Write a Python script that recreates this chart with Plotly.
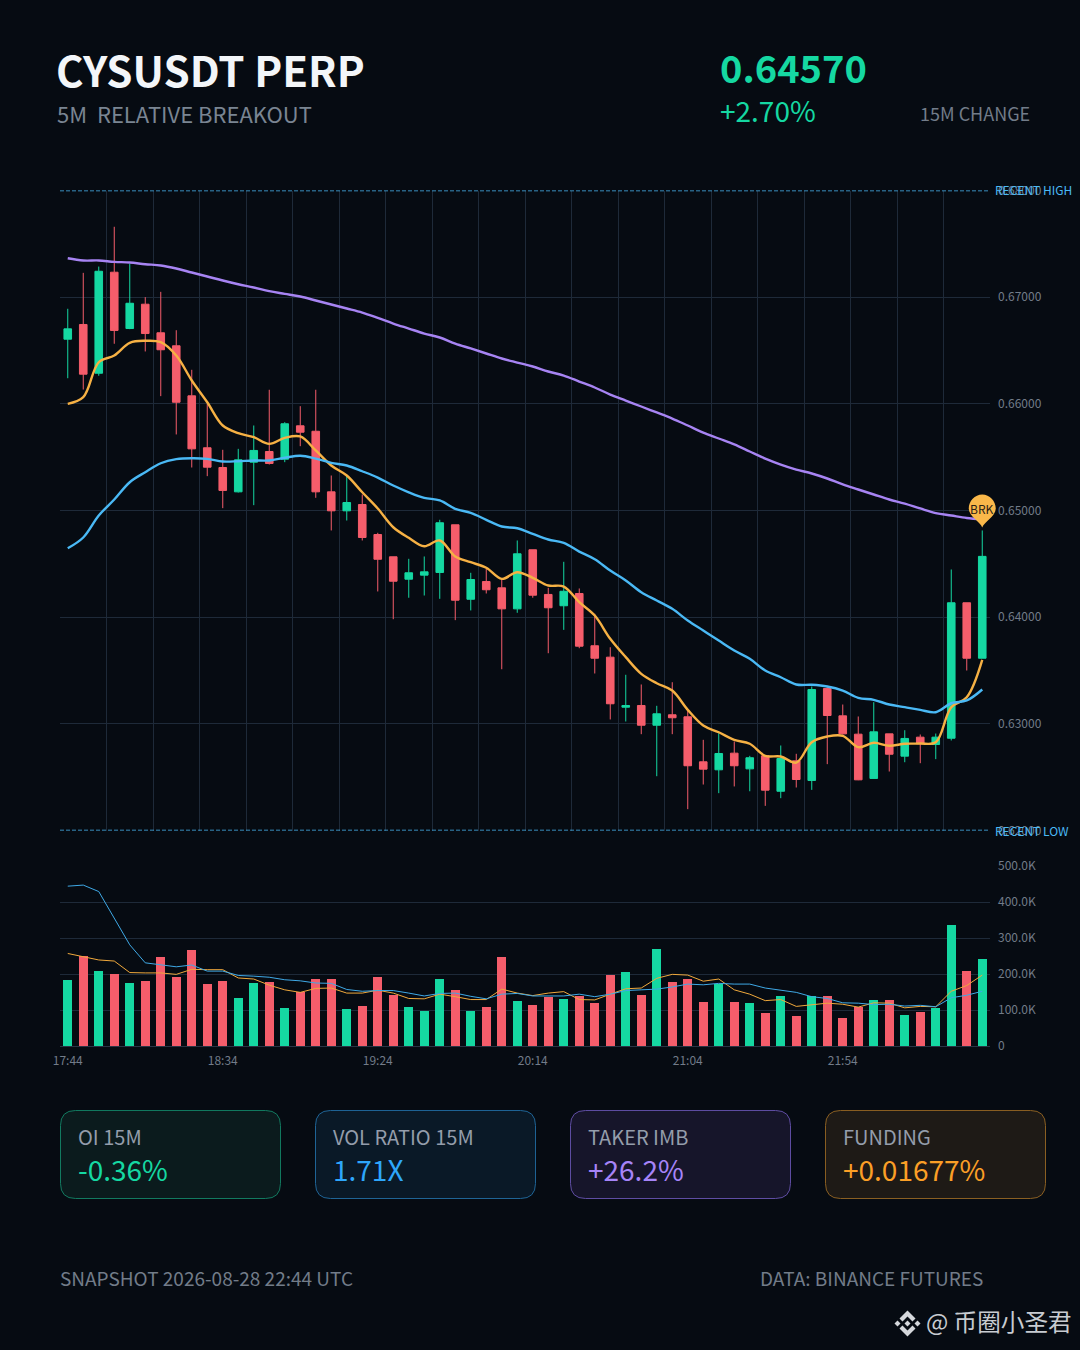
import plotly.graph_objects as go

W, H = 1080, 1350

times = ["17:44","17:49","17:54","17:59","18:04","18:09","18:14","18:19","18:24","18:29",
         "18:34","18:39","18:44","18:49","18:54","18:59","19:04","19:09","19:14","19:19",
         "19:24","19:29","19:34","19:39","19:44","19:49","19:54","19:59","20:04","20:09",
         "20:14","20:19","20:24","20:29","20:34","20:39","20:44","20:49","20:54","20:59",
         "21:04","21:09","21:14","21:19","21:24","21:29","21:34","21:39","21:44","21:49",
         "21:54","21:59","22:04","22:09","22:14","22:19","22:24","22:29","22:34","22:39"]

opens = [.66606,.66744,.66287,.67234,.66706,.66934,.66666,.66544,.66075,.65588,
         .65403,.65175,.65453,.65553,.65481,.65794,.65743,.65175,.64997,.65056,
         .64775,.64566,.64356,.64394,.64419,.64866,.64168,.64334,.64275,.64078,
         .64632,.64213,.64107,.64222,.63732,.63625,.63156,.63172,.62987,.63085,
         .63066,.62644,.62569,.62725,.62578,.62700,.62368,.62653,.62469,.63331,
         .63075,.62903,.62488,.62906,.62697,.62875,.62806,.62865,.64135,.63615]
closes = [.66703,.66278,.67243,.66688,.66943,.66659,.66507,.66015,.65578,.65406,
          .65188,.65475,.65563,.65441,.65813,.65734,.65175,.64997,.65075,.64747,
          .64543,.64337,.64416,.64425,.64885,.64159,.64353,.64257,.64078,.64594,
          .64206,.64088,.64243,.63728,.63615,.63188,.63172,.62987,.63094,.63057,
          .62607,.62575,.62722,.62607,.62682,.62378,.62675,.62478,.63322,.63078,
          .62906,.62475,.62925,.62715,.62863,.62813,.62875,.64135,.63615,.64570]
highs = [.66891,.67228,.67287,.67660,.67313,.67000,.67050,.66690,.66319,.66000,
         .65569,.65578,.65797,.66132,.65828,.65978,.66132,.65328,.65328,.65150,
         .64791,.64566,.64547,.64569,.64913,.64866,.64416,.64453,.64363,.64719,
         .64632,.64275,.64519,.64269,.64032,.63718,.63460,.63369,.63169,.63390,
         .63125,.62850,.62912,.62834,.62700,.62700,.62797,.62719,.63350,.63356,
         .63181,.63069,.63203,.62906,.62940,.62900,.62909,.64447,.64135,.64813]
lows = [.66240,.66134,.66263,.66563,.66700,.66491,.66072,.65713,.65403,.65322,
        .65022,.65169,.65050,.65431,.65453,.65603,.65119,.64813,.64906,.64719,
        .64241,.63981,.64182,.64203,.64172,.63972,.64063,.64222,.63512,.64041,
        .64182,.63662,.63881,.63709,.63472,.63041,.63022,.62903,.62509,.62903,
        .62200,.62431,.62350,.62413,.62368,.62231,.62303,.62403,.62381,.62622,
        .62900,.62472,.62488,.62553,.62640,.62631,.62669,.62844,.63500,.63615]

ema_fast = [.66000,.66062,.66390,.66453,.66572,.66591,.66578,.66453,.66219,.66015,
            .65797,.65725,.65687,.65625,.65681,.65694,.65563,.65422,.65328,.65171,
            .65019,.64843,.64744,.64665,.64719,.64569,.64515,.64463,.64359,.64421,
            .64369,.64297,.64287,.64140,.64015,.63797,.63625,.63469,.63381,.63312,
            .63131,.62984,.62921,.62850,.62813,.62700,.62694,.62637,.62828,.62881,
            .62888,.62781,.62822,.62794,.62813,.62815,.62828,.63156,.63249,.63600]
ema_mid = [.64646,.64747,.64953,.65103,.65265,.65359,.65443,.65481,.65490,.65484,
           .65459,.65462,.65469,.65469,.65494,.65513,.65487,.65447,.65422,.65368,
           .65309,.65234,.65171,.65119,.65094,.65016,.64978,.64913,.64850,.64834,
           .64781,.64728,.64697,.64615,.64543,.64437,.64344,.64234,.64156,.64078,
           .63969,.63875,.63781,.63688,.63610,.63500,.63437,.63369,.63366,.63350,
           .63312,.63244,.63225,.63181,.63156,.63131,.63109,.63193,.63219,.63322]
ema_slow = [.67365,.67344,.67344,.67331,.67325,.67309,.67297,.67269,.67231,.67194,
            .67156,.67121,.67091,.67056,.67031,.67006,.66969,.66931,.66894,.66856,
            .66806,.66753,.66706,.66659,.66622,.66565,.66519,.66472,.66425,.66387,
            .66350,.66303,.66265,.66209,.66153,.66087,.66031,.65975,.65919,.65862,
            .65797,.65731,.65675,.65619,.65553,.65487,.65431,.65384,.65347,.65300,
            .65244,.65197,.65150,.65103,.65065,.65019,.64976,.64953,.64930,.64918]

volumes = [182,249,207,200,176,181,247,193,267,172,
           181,133,176,179,106,151,185,185,103,111,
           191,143,108,98,185,155,97,109,247,125,
           114,136,131,140,119,197,206,142,269,179,
           186,122,173,122,119,93,139,82,139,139,
           77,108,129,129,87,94,106,337,207,242]
vol_fast = [257,249,239,236,204,203,203,199,213,212,
            212,189,186,169,156,149,160,161,147,147,
            155,147,132,131,144,137,129,129,158,147,
            140,147,151,129,128,144,159,161,188,199,
            197,180,186,156,144,126,129,110,114,119,
            116,108,120,119,106,110,109,152,168,197]
vol_slow = [444,447,429,353,281,231,226,220,225,208,
            208,196,194,191,184,181,175,174,157,152,
            154,154,147,139,146,147,138,131,144,146,
            139,138,139,144,137,144,154,156,158,164,
            172,170,174,172,172,161,155,149,137,132,
            120,119,115,116,111,113,109,134,141,152]

price_ticks = [.62,.63,.64,.65,.66,.67,.68]
vol_ticks = [0,100,200,300,400,500]
vol_labels = ["0","100.0K","200.0K","300.0K","400.0K","500.0K"]
recent_high = .68
recent_low = .62
brk_price = .6484

BG = "#060b12"
GRID = "#1e2a39"
GREEN = "#15d8a2"
RED = "#f55d6b"
ORANGE = "#f6b144"
BLUE = "#4ab9f5"
PURPLE = "#a784f3"
MUTED = "#727c89"
FONT = "Noto Sans CJK SC"

idx = list(range(len(times)))
fig = go.Figure()

fig.add_trace(go.Bar(x=idx, y=[v * 1000 for v in volumes], width=0.56,
                     marker=dict(color=[GREEN if c >= o else RED for o, c in zip(opens, closes)], line_width=0),
                     xaxis="x2", yaxis="y2"))
fig.add_trace(go.Scatter(x=idx, y=[v * 1000 for v in vol_fast], mode="lines",
                         line=dict(color="#f0a93c", width=1), xaxis="x2", yaxis="y2"))
fig.add_trace(go.Scatter(x=idx, y=[v * 1000 for v in vol_slow], mode="lines",
                         line=dict(color="#3fa9e6", width=1), xaxis="x2", yaxis="y2"))

fig.add_trace(go.Candlestick(x=idx, open=opens, high=highs, low=lows, close=closes,
                             increasing=dict(line=dict(color=GREEN, width=1), fillcolor=GREEN),
                             decreasing=dict(line=dict(color=RED, width=1), fillcolor=RED),
                             whiskerwidth=0, xaxis="x", yaxis="y"))
for vals, col in [(ema_fast, ORANGE), (ema_mid, BLUE), (ema_slow, PURPLE)]:
    fig.add_trace(go.Scatter(x=idx, y=vals, mode="lines",
                             line=dict(color=col, width=2.4, shape="spline", smoothing=1.0),
                             xaxis="x", yaxis="y"))
for level in [recent_high, recent_low]:
    fig.add_trace(go.Scatter(x=[-0.5, 59.5], y=[level, level], mode="lines", cliponaxis=False,
                             line=dict(color=BLUE, width=1.3, dash="4px,2px"), xaxis="x", yaxis="y"))

fig.update_layout(
    width=W, height=H, autosize=False, margin=dict(l=0, r=0, t=0, b=0, autoexpand=False),
    paper_bgcolor=BG, plot_bgcolor=BG, showlegend=False, hovermode=False,
    font=dict(family=FONT, color=MUTED),
    bargap=0,
    xaxis=dict(domain=[60 / W, 990 / W], range=[-0.5, 59.5], anchor="y",
               tickmode="array", tickvals=[-0.5 + 3 * k for k in range(21)],
               showticklabels=False, showgrid=True, gridcolor=GRID, gridwidth=1,
               zeroline=False, rangeslider=dict(visible=False)),
    yaxis=dict(domain=[1 - 830.5 / H, 1 - 190.5 / H], range=[.62, .68], anchor="x", side="right",
               tickmode="array", tickvals=price_ticks, tickformat=".5f",
               tickfont=dict(size=12, color=MUTED), ticklabelstandoff=7,
               showgrid=True, gridcolor=GRID, zeroline=False),
    xaxis2=dict(domain=[60 / W, 990 / W], range=[-0.5, 59.5], anchor="y2",
                tickmode="array", tickvals=idx[::10], ticktext=times[::10],
                tickfont=dict(size=12, color=MUTED), showgrid=False, zeroline=False,
                ticklabelstandoff=4, showline=True, linecolor="#2a3545", linewidth=1),
    yaxis2=dict(domain=[1 - 1046 / H, 1 - 866 / H], range=[0, 500000], anchor="x2", side="right",
                tickmode="array", tickvals=[v * 1000 for v in vol_ticks], ticktext=vol_labels,
                tickfont=dict(size=12, color=MUTED), ticklabelstandoff=7,
                showgrid=True, gridcolor=GRID, zeroline=False),
)


def text(x, y, s, size, color, anchor="left", bold=False):
    fig.add_annotation(xref="paper", yref="paper", x=x / W, y=1 - y / H, text=f"<b>{s}</b>" if bold else s,
                       showarrow=False, xanchor=anchor, yanchor="middle", borderpad=0,
                       font=dict(size=size, color=color, family=FONT))


def rounded(x0, y0, x1, y1, r):
    return ("M %.5f %.5f L %.5f %.5f Q %.5f %.5f %.5f %.5f L %.5f %.5f Q %.5f %.5f %.5f %.5f "
            "L %.5f %.5f Q %.5f %.5f %.5f %.5f L %.5f %.5f Q %.5f %.5f %.5f %.5f Z" % tuple(
                v for p in [(x0 + r, y0), (x1 - r, y0), (x1, y0), (x1, y0 + r), (x1, y1 - r), (x1, y1), (x1 - r, y1),
                            (x0 + r, y1), (x0, y1), (x0, y1 - r), (x0, y0 + r), (x0, y0), (x0 + r, y0)]
                for v in (p[0] / W, 1 - p[1] / H)))


text(55, 68, "CYSUSDT PERP", 42, "#f3f6f9", bold=True)
text(55.5, 113, "5M\u00a0\u00a0RELATIVE BREAKOUT", 22, "#7a8592")
text(719, 67, "0.64570", 38, GREEN, bold=True)
text(719, 110, "+2.70%", 28, GREEN)
text(1031, 113, "15M CHANGE", 18, MUTED, anchor="right")

text(994, 190, "RECENT HIGH", 12, BLUE)
text(994, 830, "RECENT LOW", 12, BLUE)

cards = [(60, "OI 15M", "-0.36%", GREEN, "#0b1b1d", "#127a60"),
         (315, "VOL RATIO 15M", "1.71X", "#2ea6fb", "#0a1927", "#1f6496"),
         (570, "TAKER IMB", "+26.2%", "#a684f8", "#16152a", "#5f4da3"),
         (825, "FUNDING", "+0.01677%", "#fb9f26", "#1e1a16", "#8a5f22")]
for x0, label, value, col, fill, edge in cards:
    fig.add_shape(type="path", xref="paper", yref="paper", path=rounded(x0 + .5, 1110.5, x0 + 220.5, 1198.5, 15),
                  fillcolor=fill, line=dict(color=edge, width=1), layer="below")
    text(x0 + 17, 1136, label, 20, "#949dab")
    text(x0 + 17, 1169, value, 28, col)

text(59, 1277, "SNAPSHOT 2026-08-28 22:44 UTC", 19, MUTED)
text(984, 1277, "DATA: BINANCE FUTURES", 19, MUTED, anchor="right")

# watermark
text(925, 1321, "@ 币圈小圣君", 23.6, "#c8ccd1")
cx, cy = 907.5, 1323.5
for pts in [[(0, -13), (8, -5), (5, -2), (0, -7), (-5, -2), (-8, -5)],
            [(0, 13), (8, 5), (5, 2), (0, 7), (-5, 2), (-8, 5)],
            [(-13, 0), (-10, -3), (-7, 0), (-10, 3)],
            [(13, 0), (10, -3), (7, 0), (10, 3)],
            [(0, -3), (3, 0), (0, 3), (-3, 0)]]:
    p = "M " + " L ".join(f"{(cx + a) / W:.5f} {1 - (cy + b) / H:.5f}" for a, b in pts) + " Z"
    fig.add_shape(type="path", xref="paper", yref="paper", path=p, fillcolor="#d5d8dc", line_width=0)

# BRK pin. axis-referenced shapes get clipped at the plot edge, so anchor on paper
pin_x = (60 + 930 * (59 + .5) / 60) / W
pin_y = (1 - 830.5 / H) + (640 / H) * (brk_price - .62) / .06
fig.add_shape(type="path", xref="paper", yref="paper", xsizemode="pixel", ysizemode="pixel",
              xanchor=pin_x, yanchor=pin_y,
              path="M 0 0 C -2 6 -13.5 11 -13.5 19 C -13.5 26.5 -7.5 33 0 33 C 7.5 33 13.5 26.5 13.5 19 C 13.5 11 2 6 0 0 Z",
              fillcolor="#f9b84a", line_width=0, layer="above")
fig.add_annotation(x=pin_x, y=pin_y, xref="paper", yref="paper", text="BRK", showarrow=False, yshift=19,
                   xanchor="center", yanchor="middle",
                   font=dict(size=12, color="#2a2115", family=FONT))

fig.write_html("out.html", config=dict(displayModeBar=False),
               post_script=f"document.body.style.margin='0';document.body.style.background='{BG}';")
